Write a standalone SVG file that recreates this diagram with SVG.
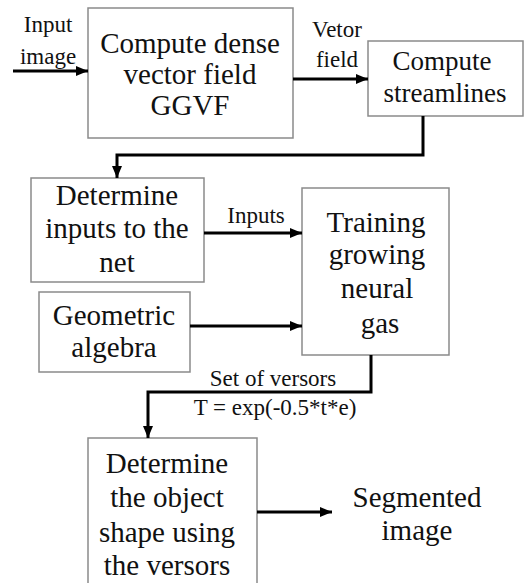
<svg xmlns="http://www.w3.org/2000/svg" width="525" height="583" viewBox="0 0 525 583" font-family="Liberation Serif, serif">
<defs>
<marker id="ah" viewBox="0 0 12 10" refX="12" refY="5" markerWidth="12" markerHeight="10" markerUnits="userSpaceOnUse" orient="auto">
<path d="M0,0 L12,5 L0,10 Z" fill="#000"/>
</marker>
<style>
.box{fill:#fff;stroke:#8a8a8a;stroke-width:1.5}
.t{font-size:29px;fill:#111;text-anchor:middle}
.t2{font-size:27px;fill:#111;text-anchor:middle}
.s{font-size:23px;fill:#111;text-anchor:middle}
.c{fill:none;stroke:#000;stroke-width:3}
</style>
</defs>
<rect width="525" height="583" fill="#fff"/>
<g id="n1">
<rect class="box" x="88" y="8" width="205" height="130"/>
<text class="t" x="190" y="53">Compute dense</text>
<text class="t" x="190" y="84">vector field</text>
<text class="t" x="190" y="115">GGVF</text>
</g>
<g id="n2">
<rect class="box" x="368" y="41" width="155" height="75"/>
<text class="t2" x="442" y="70">Compute</text>
<text class="t2" x="445" y="102">streamlines</text>
</g>
<g id="n3">
<rect class="box" x="31" y="178" width="173" height="104"/>
<text class="t" x="117" y="205">Determine</text>
<text class="t" x="117" y="238">inputs to the</text>
<text class="t" x="117" y="272">net</text>
</g>
<g id="n4">
<rect class="box" x="302" y="188" width="147" height="167"/>
<text class="t" x="376" y="232">Training</text>
<text class="t" x="377" y="264">growing</text>
<text class="t" x="377" y="298">neural</text>
<text class="t" x="380" y="333">gas</text>
</g>
<g id="n5">
<rect class="box" x="39" y="292" width="151" height="80"/>
<text class="t" x="114" y="325">Geometric</text>
<text class="t" x="114" y="357">algebra</text>
</g>
<g id="n6">
<rect class="box" x="88" y="438" width="169" height="160"/>
<text class="t" x="167" y="473">Determine</text>
<text class="t" x="167" y="507">the object</text>
<text class="t" x="167" y="542">shape using</text>
<text class="t" x="167" y="575">the versors</text>
</g>
<g id="n7">
<text class="t" x="417" y="507">Segmented</text>
<text class="t" x="417" y="540">image</text>
</g>
<g id="connectors">
<line class="c" x1="13" y1="71" x2="88" y2="71" marker-end="url(#ah)"/>
<line class="c" x1="293" y1="79" x2="368" y2="79" marker-end="url(#ah)"/>
<polyline class="c" points="423,116 423,155 117,155 117,178" marker-end="url(#ah)"/>
<line class="c" x1="204" y1="233" x2="302" y2="233" marker-end="url(#ah)"/>
<line class="c" x1="190" y1="326" x2="302" y2="326" marker-end="url(#ah)"/>
<polyline class="c" points="371,355 371,392 148,392 148,438" marker-end="url(#ah)"/>
<line class="c" x1="257" y1="512" x2="332" y2="512" marker-end="url(#ah)"/>
<text class="s" x="48" y="32">Input</text>
<text class="s" x="48" y="64">image</text>
<text class="s" x="337" y="37">Vetor</text>
<text class="s" x="337" y="67">field</text>
<text class="s" x="256" y="223">Inputs</text>
<text class="s" x="273" y="386">Set of versors</text>
<text class="s" x="275" y="415">T = exp(-0.5*t*e)</text>
</g>
</svg>
